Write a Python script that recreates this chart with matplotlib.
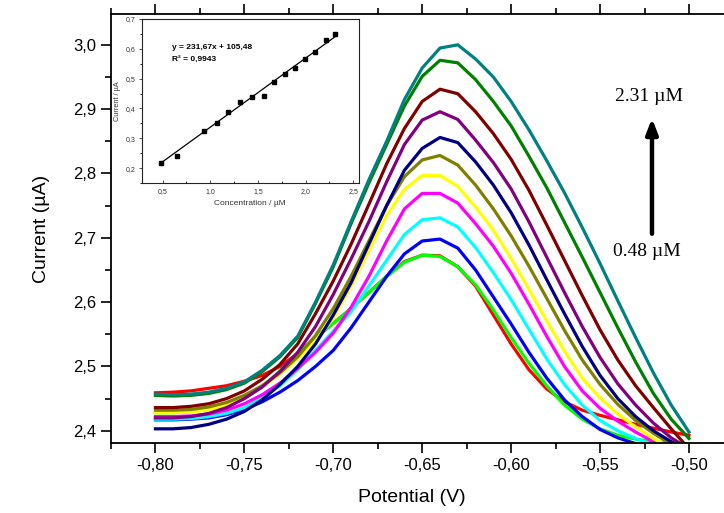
import matplotlib
matplotlib.use("Agg")
import matplotlib.pyplot as plt
from matplotlib.ticker import MultipleLocator, FuncFormatter
import numpy as np

plt.rcParams['font.family'] = ['Liberation Sans', 'DejaVu Sans']

# potential grid (V)
potential = [-0.80, -0.79, -0.78, -0.77, -0.76, -0.75, -0.74, -0.73, -0.72, -0.71,
             -0.70, -0.69, -0.68, -0.67, -0.66, -0.65, -0.64, -0.63, -0.62, -0.61,
             -0.60, -0.59, -0.58, -0.57, -0.56, -0.55, -0.54, -0.53, -0.52, -0.51, -0.50]

# DPV curves, lowest to highest concentration (uA)
red = [2.459, 2.460, 2.462, 2.466, 2.470, 2.477, 2.486, 2.500, 2.520, 2.545, 2.567, 2.590, 2.615, 2.640, 2.663, 2.673,
       2.672, 2.655, 2.625, 2.580, 2.535, 2.495, 2.465, 2.445, 2.432, 2.424, 2.417, 2.410, 2.404, 2.398, 2.393]
lime = [2.428, 2.428, 2.430, 2.434, 2.440, 2.450, 2.468, 2.493, 2.520, 2.545, 2.567, 2.590, 2.615, 2.640, 2.662, 2.673,
        2.671, 2.655, 2.627, 2.588, 2.545, 2.505, 2.470, 2.440, 2.418, 2.403, 2.393, 2.387, 2.383, 2.381, 2.380]
blue = [2.417, 2.417, 2.418, 2.420, 2.425, 2.433, 2.445, 2.460, 2.478, 2.500, 2.525, 2.560, 2.600, 2.640, 2.675, 2.695,
        2.698, 2.684, 2.650, 2.608, 2.566, 2.522, 2.482, 2.448, 2.422, 2.402, 2.389, 2.380, 2.372, 2.365, 2.360]
cyan = [2.418, 2.418, 2.419, 2.422, 2.427, 2.436, 2.452, 2.470, 2.495, 2.525, 2.555, 2.585, 2.625, 2.665, 2.705, 2.728,
        2.731, 2.717, 2.685, 2.646, 2.604, 2.558, 2.512, 2.472, 2.440, 2.416, 2.400, 2.388, 2.378, 2.370, 2.362]
magenta = [2.422, 2.422, 2.423, 2.426, 2.432, 2.442, 2.456, 2.474, 2.497, 2.522, 2.552, 2.592, 2.640, 2.695, 2.745, 2.769,
           2.769, 2.754, 2.722, 2.687, 2.645, 2.597, 2.547, 2.500, 2.462, 2.435, 2.415, 2.398, 2.383, 2.370, 2.360]
yellow = [2.428, 2.428, 2.429, 2.433, 2.440, 2.452, 2.468, 2.488, 2.512, 2.540, 2.575, 2.625, 2.680, 2.735, 2.775, 2.797,
          2.797, 2.780, 2.748, 2.712, 2.668, 2.620, 2.571, 2.524, 2.482, 2.451, 2.426, 2.406, 2.388, 2.373, 2.362]
olive = [2.432, 2.432, 2.433, 2.437, 2.444, 2.455, 2.470, 2.490, 2.515, 2.548, 2.590, 2.640, 2.695, 2.750, 2.795, 2.821,
         2.828, 2.813, 2.782, 2.745, 2.703, 2.656, 2.606, 2.556, 2.510, 2.472, 2.441, 2.416, 2.396, 2.379, 2.366]
navy = [2.403, 2.403, 2.405, 2.410, 2.418, 2.430, 2.448, 2.472, 2.500, 2.535, 2.580, 2.630, 2.690, 2.750, 2.805, 2.839,
        2.856, 2.848, 2.818, 2.782, 2.739, 2.689, 2.635, 2.582, 2.531, 2.486, 2.450, 2.422, 2.400, 2.383, 2.370]
purple = [2.420, 2.420, 2.422, 2.427, 2.436, 2.450, 2.468, 2.492, 2.522, 2.562, 2.612, 2.667, 2.725, 2.787, 2.845, 2.883,
          2.896, 2.884, 2.852, 2.817, 2.776, 2.725, 2.670, 2.615, 2.562, 2.514, 2.473, 2.440, 2.412, 2.389, 2.372]
maroon = [2.436, 2.436, 2.438, 2.442, 2.450, 2.462, 2.480, 2.503, 2.535, 2.582, 2.633, 2.690, 2.752, 2.815, 2.870, 2.912,
          2.931, 2.924, 2.896, 2.862, 2.822, 2.774, 2.720, 2.665, 2.610, 2.557, 2.510, 2.470, 2.436, 2.403, 2.372]
green = [2.455, 2.454, 2.455, 2.458, 2.464, 2.474, 2.492, 2.515, 2.545, 2.598, 2.655, 2.722, 2.785, 2.845, 2.905, 2.951,
         2.976, 2.972, 2.946, 2.912, 2.874, 2.827, 2.778, 2.724, 2.670, 2.615, 2.560, 2.507, 2.458, 2.418, 2.388]
teal = [2.457, 2.456, 2.457, 2.460, 2.466, 2.476, 2.494, 2.517, 2.547, 2.600, 2.658, 2.725, 2.790, 2.850, 2.915, 2.964,
        2.995, 3.000, 2.978, 2.950, 2.912, 2.868, 2.820, 2.770, 2.716, 2.660, 2.602, 2.545, 2.490, 2.440, 2.398]

curves = [red, lime, blue, cyan, magenta, yellow, olive, navy, purple, maroon, green, teal]
colors = ['#FF0000', '#00FF00', '#0000FF', '#00FFFF', '#FF00FF', '#FFFF00',
          '#808000', '#000080', '#800080', '#800000', '#008000', '#008080']

# calibration inset
conc = [0.48, 0.65, 0.93, 1.07, 1.19, 1.31, 1.44, 1.56, 1.67, 1.78, 1.89, 1.99, 2.10, 2.21, 2.31]
peak_current = [0.217, 0.239, 0.326, 0.352, 0.389, 0.420, 0.437, 0.443, 0.488, 0.514, 0.537, 0.567, 0.590, 0.630, 0.650]
slope, intercept = 0.23167, 0.10548


def comma(fmt):
    return FuncFormatter(lambda v, p: fmt.format(v).replace('.', ','))


fig = plt.figure(figsize=(7.24, 5.13), dpi=100)
ax = fig.add_axes([0.1533, 0.1365, 0.8467, 0.8363])

for ys, c in zip(curves, colors):
    ax.plot(potential, ys, color=c, lw=2.3)

ax.set_xlim(-0.825, -0.4803)
ax.set_ylim(2.381, 3.048)
ax.xaxis.set_major_locator(MultipleLocator(0.05))
ax.xaxis.set_minor_locator(MultipleLocator(0.025))
ax.yaxis.set_major_locator(MultipleLocator(0.1))
ax.yaxis.set_minor_locator(MultipleLocator(0.05))
ax.xaxis.set_major_formatter(comma('{:.2f}'))
ax.yaxis.set_major_formatter(comma('{:.1f}'))
ax.tick_params(which='major', direction='out', length=7, width=1.2, labelsize=12)
ax.tick_params(which='minor', direction='out', length=4, width=1.2)
ax.tick_params(axis='x', which='both', top=True, labeltop=False)
for s in ['left', 'bottom', 'top']:
    ax.spines[s].set_linewidth(1.3)
ax.spines['right'].set_visible(False)

ax.set_xlabel('Potential (V)', fontsize=14)
ax.set_ylabel('Current (µA)', fontsize=14)
ax.xaxis.set_label_coords(0.491, -0.108)
ax.yaxis.set_label_coords(-0.10, 0.50)

serif = ['Liberation Serif', 'DejaVu Serif']
ax.text(-0.5225, 2.919, '2.31 µM', family=serif, fontsize=14, ha='center', va='center')
ax.text(-0.5236, 2.679, '0.48 µM', family=serif, fontsize=14, ha='center', va='center')
ax.annotate('', xy=(-0.5208, 2.890), xytext=(-0.5208, 2.702),
            arrowprops=dict(arrowstyle='-|>,head_length=0.9,head_width=0.35', color='black', lw=3.2))

# inset
ins = fig.add_axes([0.1957, 0.6433, 0.3001, 0.3197])
ins.plot(conc, peak_current, 's', color='black', ms=3.5)
xfit = np.array([conc[0], conc[-1]])
ins.plot(xfit, slope * xfit + intercept, color='black', lw=0.9)
ins.set_xlim(0.28, 2.56)
ins.set_ylim(0.15, 0.70)
ins.xaxis.set_major_locator(MultipleLocator(0.5))
ins.xaxis.set_minor_locator(MultipleLocator(0.25))
ins.yaxis.set_major_locator(MultipleLocator(0.1))
ins.yaxis.set_minor_locator(MultipleLocator(0.05))
ins.xaxis.set_major_formatter(comma('{:.1f}'))
ins.yaxis.set_major_formatter(comma('{:.1f}'))
ins.tick_params(which='major', length=2.5, width=0.6, labelsize=5, pad=2, colors='#333333')
ins.tick_params(which='minor', length=1.5, width=0.6)
ins.tick_params(axis='x', which='both', direction='in')
ins.tick_params(axis='x', which='major', pad=4)
for s in ins.spines.values():
    s.set_linewidth(0.8)
    s.set_color('#222222')
ins.set_xlabel('Concentration / µM', fontsize=6, labelpad=3, color='#333333')
ins.set_ylabel('Current / µA', fontsize=5.3, labelpad=3, color='#333333')
ins.text(0.6, 0.605, 'y = 231,67x + 105,48', fontsize=6, fontweight='bold', va='center')
ins.text(0.6, 0.565, 'R² = 0,9943', fontsize=6, fontweight='bold', va='center')

fig.savefig('out.png', dpi=100)
